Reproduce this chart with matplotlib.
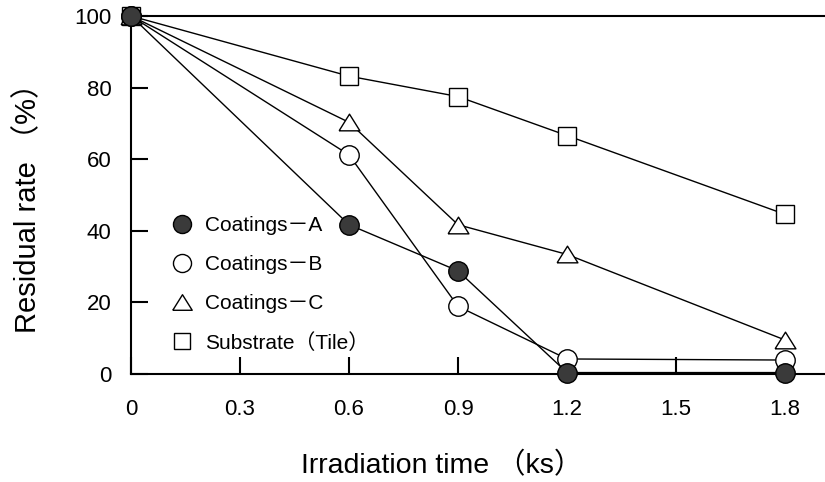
import matplotlib
matplotlib.use("Agg")
import matplotlib.pyplot as plt
from matplotlib.lines import Line2D

plt.rcParams['font.family'] = ['Liberation Sans', 'Noto Sans CJK JP', 'DejaVu Sans']

time_ks = [0, 0.6, 0.9, 1.2, 1.8]
coat_a = [100, 41.7, 28.8, 0.4, 0.4]
coat_b = [100, 61.2, 18.9, 4.2, 3.9]
coat_c = [100, 70.3, 41.7, 33.4, 9.5]
substrate = [100, 83.2, 77.5, 66.6, 44.6]
labels = ["Coatings\uff0dA", "Coatings\uff0dB", "Coatings\uff0dC", "Substrate\uff08Tile\uff09"]
xticks = [0, 0.3, 0.6, 0.9, 1.2, 1.5, 1.8]
xticklabels = ["0", "0.3", "0.6", "0.9", "1.2", "1.5", "1.8"]
yticks = [0, 20, 40, 60, 80, 100]

fig = plt.figure(figsize=(8.25, 4.82), dpi=100)
top_px, bot_px, left_px = 16, 374, 131
ax = fig.add_axes([left_px/825, 1-bot_px/482, 1-left_px/825, (bot_px-top_px)/482])

tri = [(-1, -0.8), (1, -0.8), (0, 0.8), (-1, -0.8)]
styles = [
    dict(marker='o', mfc='#3a3a3a', mec='black', ms=14),
    dict(marker='o', mfc='white', mec='black', ms=14),
    dict(marker=tri, mfc='white', mec='black', ms=15),
    dict(marker='s', mfc='white', mec='black', ms=13),
]
series = [substrate, coat_c, coat_b, coat_a]
sty_order = [3, 2, 1, 0]
for data, si in zip(series, sty_order):
    st = styles[si]
    ax.plot(time_ks, data, color='black', lw=1.0, mew=1.0, clip_on=False, zorder=3, **st)

ax.set_xlim(0, 1.91)
ax.set_ylim(0, 100)
ax.set_xticks(xticks)
ax.set_xticklabels(xticklabels)
ax.set_yticks(yticks)
ax.tick_params(direction='in', length=12, width=1.5, labelsize=16, pad=14)
ax.tick_params(axis='x', pad=18)
for s in ['left', 'bottom', 'top']:
    ax.spines[s].set_linewidth(1.5)
ax.spines['right'].set_visible(False)

H = bot_px - top_px
W = 825 - left_px
ax.set_ylabel("Residual rate \uff08%\uff09", fontsize=21)
ax.set_xlabel("Irradiation time \uff08ks\uff09", fontsize=20.5)
ax.yaxis.set_label_coords((42-left_px)/W, (bot_px-201)/H)
ax.xaxis.set_label_coords((442-left_px)/W, (bot_px-452)/H)

handles = [Line2D([], [], ls='none', **styles[i]) for i in range(4)]
handles[0].set_markersize(13); handles[1].set_markersize(13)
handles[2].set_markersize(14); handles[3].set_markersize(12)
ax.legend(handles, labels, loc='upper left', bbox_to_anchor=(0.047, (bot_px-208)/H),
          frameon=False, fontsize=15, handlelength=1.0, handletextpad=0.6,
          labelspacing=0.95, borderaxespad=0)

fig.savefig("out.png", dpi=100)
